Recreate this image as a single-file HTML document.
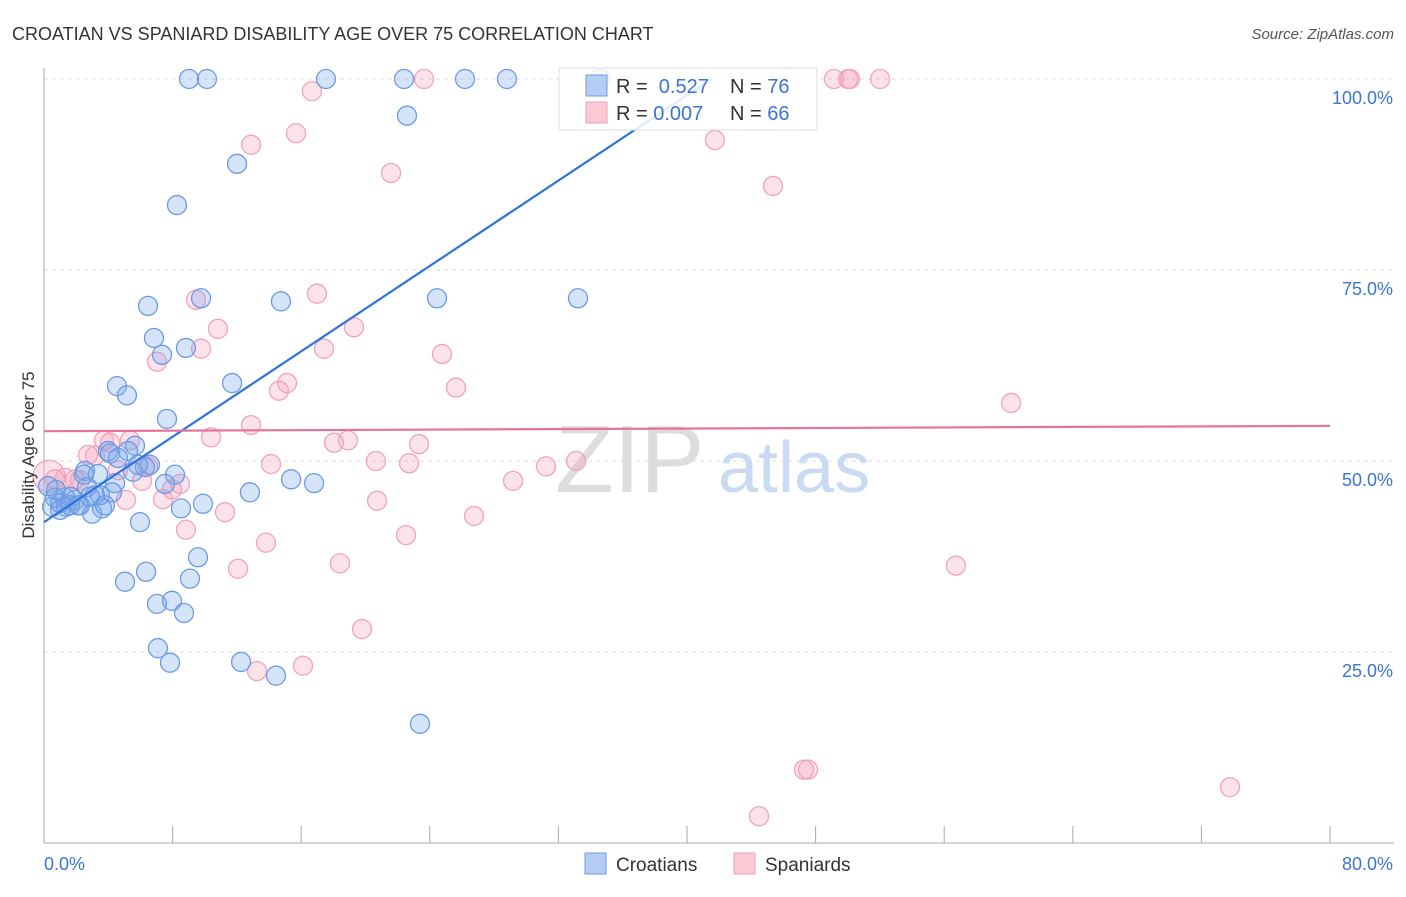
<!DOCTYPE html>
<html><head><meta charset="utf-8"><style>
body{margin:0;background:#fff;font-family:"Liberation Sans",sans-serif}
svg text{font-family:"Liberation Sans",sans-serif}
</style></head><body>
<svg id="c" width="1406" height="892">
<text x="12" y="40" font-size="18" fill="#333">CROATIAN VS SPANIARD DISABILITY AGE OVER 75 CORRELATION CHART</text>
<text x="1394" y="39" font-size="15" fill="#555" text-anchor="end" font-style="italic">Source: ZipAtlas.com</text>
<g id="grid"></g>
<text x="555" y="492" font-size="96" fill="#ddd" font-family="Liberation Serif">ZIP</text>
<text x="718" y="492" font-size="72" fill="#c9daf3">atlas</text>
<g id="pts"></g>
<g id="lines"></g>
<text transform="translate(34,455) rotate(-90)" font-size="17" fill="#333" text-anchor="middle">Disability Age Over 75</text>
<g>
<rect x="559" y="68" width="258" height="62" fill="#fff" fill-opacity="0.85" stroke="#ddd"/>
<rect x="586" y="75" width="21" height="21" fill="#b5cdf4" stroke="#6d9be3"/>
<rect x="586" y="102" width="21" height="21" fill="#f9c9d6" stroke="#f0a0b8"/>
<text x="616" y="93" font-size="20" fill="#333">R = <tspan fill="#3a75d6">&#160;0.527</tspan><tspan x="730">N = </tspan><tspan fill="#3a75d6">76</tspan></text>
<text x="616" y="120" font-size="20" fill="#333">R = <tspan fill="#3a75d6">0.007</tspan><tspan x="730">N = </tspan><tspan fill="#3a75d6">66</tspan></text>
</g>
<g>
<rect x="585" y="853" width="21" height="21" fill="#b5cdf4" stroke="#6d9be3"/>
<text x="616" y="871" font-size="19" fill="#333">Croatians</text>
<rect x="734" y="853" width="21" height="21" fill="#f9c9d6" stroke="#f0a0b8"/>
<text x="765" y="871" font-size="19" fill="#333">Spaniards</text>
</g>
</svg>
<script>
const xTicks=[0,8,16,24,32,40,48,56,64,72,80];
const yTicks=[25,50,75,100];
const yTickLabels=["25.0%","50.0%","75.0%","100.0%"];
const xEndLabels=["0.0%","80.0%"];
const croX=[9.02,10.14,17.54,22.40,26.19,28.80,34.59,22.58,12.01,8.27,9.77,14.74,24.45,33.22,6.47,6.84,7.34,8.83,4.54,5.16,11.70,7.65,3.98,5.66,5.23,4.11,6.59,6.28,5.54,8.15,7.53,3.36,2.55,4.42,2.67,12.81,15.37,16.80,9.89,8.52,5.97,3.17,1.68,1.93,1.31,0.68,0.50,1.00,1.37,2.24,2.99,3.61,0.75,0.25,9.58,6.35,5.04,9.08,7.96,7.03,8.71,7.09,7.84,12.26,14.43,23.39,2.49,5.85,4.60,3.48,1.62,2.12,2.86,1.00,3.79,4.23];
const croY=[100,100,100,100,100,100,100,95.2,88.9,83.5,71.3,70.9,71.3,71.3,70.3,66.1,63.9,64.8,59.8,58.6,60.2,55.5,51.3,52.0,51.3,51.0,49.5,49.2,48.6,48.2,47.0,48.3,48.7,47.1,46.6,45.9,47.6,47.1,44.4,43.8,42.0,45.5,45.3,44.9,45.2,45.2,44.0,43.6,44.0,44.2,43.1,43.8,46.2,46.7,37.4,35.5,34.2,34.6,31.7,31.3,30.1,25.5,23.6,23.7,21.9,15.6,48.2,49.5,50.4,45.5,44.2,44.2,45.3,44.5,44.2,45.9];
const spaX=[0.68,1.31,1.93,2.24,2.74,3.17,3.73,4.11,5.35,4.60,6.10,6.47,7.40,7.96,8.46,5.10,8.83,10.39,11.26,12.07,12.88,13.81,13.25,14.12,16.11,14.62,15.12,16.67,15.68,12.88,21.59,23.64,16.98,9.46,10.82,9.77,7.03,17.42,19.28,24.76,25.63,18.04,18.91,20.65,22.71,23.33,20.72,22.52,26.75,18.41,19.78,29.18,31.23,33.10,41.74,45.35,49.14,50.02,50.14,52.01,60.16,56.73,47.28,47.53,44.48,73.78,0.31];
const spaY=[47.6,47.8,47.6,47.5,50.8,50.7,52.7,52.4,52.7,48.8,47.4,49.3,45.0,46.3,47.0,44.9,41.0,53.1,43.3,35.9,54.7,39.3,22.5,49.6,23.2,59.2,60.2,98.4,92.9,91.4,87.7,100,71.9,71.1,67.3,64.7,63.0,64.7,67.5,64.0,59.6,52.4,52.7,50.0,49.7,52.2,44.8,40.3,42.8,36.6,28.0,47.4,49.3,50.0,92.0,86.0,100,100,100,100,57.6,36.3,9.6,9.6,3.5,7.3,48.0];
const croTrend=[42.0,1.397];
const spaTrend=[53.9,0.00875];
const NS="http://www.w3.org/2000/svg";
const sx=v=>44+v/80*1286, sy=v=>843-v/100*764;
function mk(p,t,a){const e=document.createElementNS(NS,t);for(const k in a)e.setAttribute(k,a[k]);p.appendChild(e);return e;}
const g=document.getElementById('grid');
yTicks.forEach((t,i)=>{
 const l=mk(g,'line',{x1:44,x2:1394,y1:sy(t),y2:sy(t),stroke:'#ddd','stroke-dasharray':'4,4'});
 
 
 const tx=mk(g,'text',{x:1393,y:sy(t)+25,'font-size':18,fill:'#3a75d6','text-anchor':'end'});tx.textContent=yTickLabels[i];
 
 
});
const ax=mk(g,'line',{x1:44,x2:44,y1:68,y2:843,stroke:'#aaa'});


const bx=mk(g,'line',{x1:44,x2:1394,y1:843,y2:843,stroke:'#aaa'});


xTicks.forEach(t=>{const l=mk(g,'line',{x1:sx(t),x2:sx(t),y1:826,y2:843,stroke:'#aaa'});
 
 });
const l0=mk(g,'text',{x:44,y:870,'font-size':18,fill:'#3a75d6'});l0.textContent=xEndLabels[0];


const l1=mk(g,'text',{x:1393,y:870,'font-size':18,fill:'#3a75d6','text-anchor':'end'});l1.textContent=xEndLabels[1];


const P=document.getElementById('pts');
spaX.forEach((x,i)=>{const c=mk(P,'circle',{cx:sx(x),cy:sy(spaY[i]),r:i==spaX.length-1?16:9.5,fill:'rgba(244,160,188,0.3)',stroke:'#f2a3bb','stroke-width':1.3});
 
 });
croX.forEach((x,i)=>{const c=mk(P,'circle',{cx:sx(x),cy:sy(croY[i]),r:9.5,fill:'rgba(120,165,235,0.3)',stroke:'#6d9be3','stroke-width':1.3});
 
 });
const L=document.getElementById('lines');
const xEnd=(100-croTrend[0])/croTrend[1];
const bl=mk(L,'line',{x1:sx(0),y1:sy(croTrend[0]),x2:sx(xEnd),y2:sy(100),stroke:'#2f73d8','stroke-width':2.2});


const pl=mk(L,'line',{x1:sx(0),y1:sy(spaTrend[0]),x2:sx(80),y2:sy(spaTrend[0]+80*spaTrend[1]),stroke:'#e7729a','stroke-width':2.2});


</script>
</body></html>
